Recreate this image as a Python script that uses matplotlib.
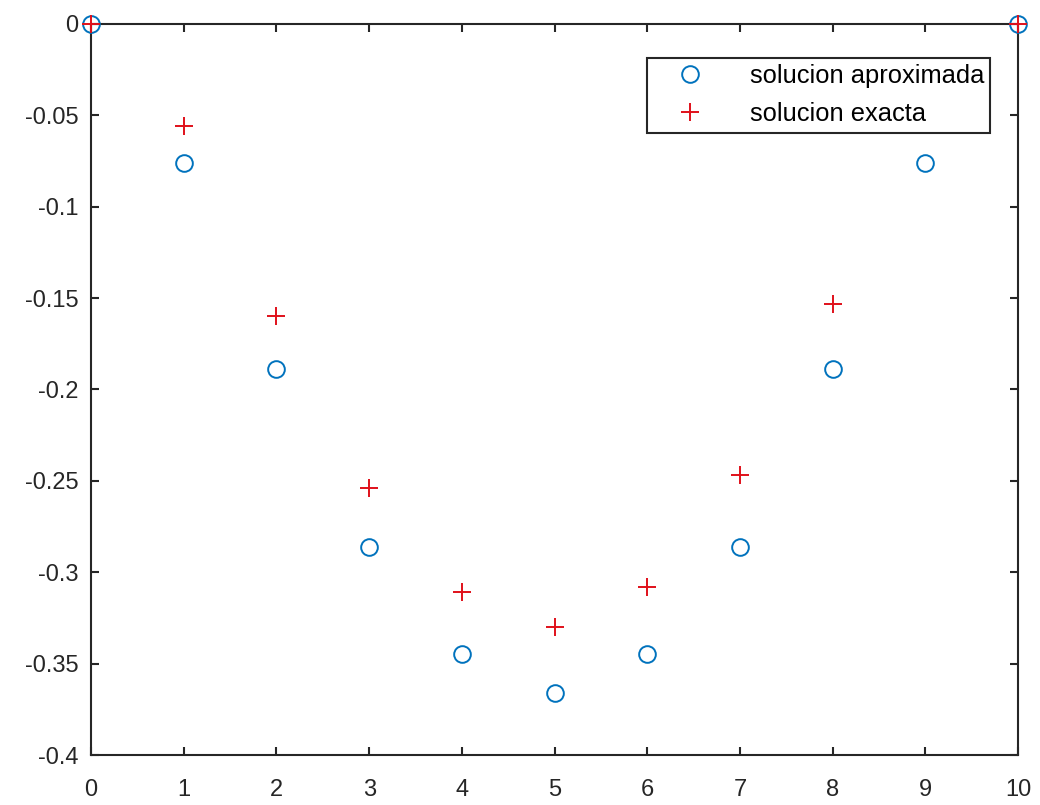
import matplotlib
matplotlib.use("Agg")
import matplotlib.pyplot as plt

plt.rcParams["font.family"] = ["Liberation Sans", "DejaVu Sans"]

# nodes of the discretisation
x_nodes = [0, 1, 2, 3, 4, 5, 6, 7, 8, 9, 10]
# approximate solution (finite differences)
u_aprox = [0.0, -0.076, -0.189, -0.286, -0.345, -0.366, -0.345, -0.286, -0.189, -0.076, 0.0]
# exact solution at the same nodes
u_exacta = [0.0, -0.056, -0.160, -0.254, -0.311, -0.330, -0.308, -0.247, -0.153, -0.052, 0.0]

x_ticks = list(range(0, 11))
y_ticks = [-0.4, -0.35, -0.3, -0.25, -0.2, -0.15, -0.1, -0.05, 0]
y_labels = ["-0.4", "-0.35", "-0.3", "-0.25", "-0.2", "-0.15", "-0.1", "-0.05", "0"]

fig = plt.figure(figsize=(10.4, 8.05), dpi=100)
ax = fig.add_axes([0.0875, 0.0621, 0.8915, 0.9081])

ax.plot(x_nodes, u_aprox, linestyle="none", marker="o", markersize=12,
        markerfacecolor="none", markeredgecolor="#0072BD", markeredgewidth=1.4,
        label="solucion aproximada", clip_on=False, zorder=3)
ax.plot(x_nodes, u_exacta, linestyle="none", marker="+", markersize=13,
        color="#E0101A", markeredgewidth=1.4,
        label="solucion exacta", clip_on=False, zorder=3)

ax.set_xlim(0, 10)
ax.set_ylim(-0.4, 0)
ax.set_xticks(x_ticks)
ax.set_yticks(y_ticks)
ax.set_yticklabels(y_labels)

for side in ax.spines.values():
    side.set_linewidth(1.5)
    side.set_color("#262626")
ax.tick_params(direction="in", length=6, width=1.5, color="#262626",
               top=True, right=True, labelsize=17, labelcolor="#262626")
ax.tick_params(axis="y", pad=9)
ax.tick_params(axis="x", pad=17)

leg = ax.legend(loc="upper right", bbox_to_anchor=(0.970, 0.9535),
                borderaxespad=0, fancybox=False, framealpha=1,
                edgecolor="#262626", fontsize=18.4, handletextpad=0.9,
                handlelength=2.9, borderpad=0.24, labelspacing=0.56)
leg.get_frame().set_linewidth(1.5)
leg.set_zorder(5)

fig.savefig("out.png", dpi=100)
